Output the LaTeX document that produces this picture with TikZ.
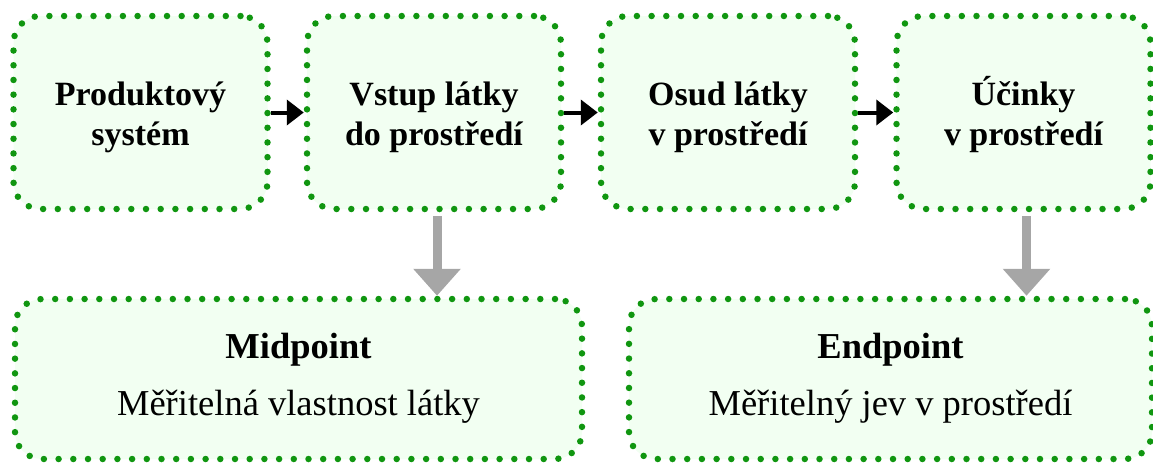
\documentclass[tikz,border=0pt]{standalone}
\usepackage{fontspec}
\setmainfont{Liberation Serif}
\usetikzlibrary{arrows.meta}
\definecolor{dotgreen}{RGB}{16,150,16}
\definecolor{boxfill}{RGB}{242,255,242}
\definecolor{arrgray}{RGB}{166,166,166}
\newcommand\tsA{\rule{0pt}{35pt}}
\newcommand\tsB{\rule[-10pt]{0pt}{10pt}}
\newcommand\bsA{\rule{0pt}{27pt}}
\newcommand\bsB{\rule[-12pt]{0pt}{12pt}}
\tikzset{
  dotbox/.style={draw=dotgreen, fill=boxfill, line width=6.5pt, line cap=round,
    dash pattern=on 0pt off 14.7pt, rounded corners=27pt, inner sep=0pt,
    align=center},
  topbox/.style={dotbox, minimum width=254pt, minimum height=193pt,
    font=\fontsize{34}{40}\selectfont\bfseries},
  botbox/.style={dotbox, minimum height=160pt,
    font=\fontsize{36.5}{57}\selectfont},
  blackarrow/.style={draw=black, line width=4pt,
    -{Triangle[length=17pt,width=25pt]}},
  grayarrow/.style={draw=arrgray, line width=9pt,
    -{Triangle[length=27pt,width=46pt]}},
}
\begin{document}
\begin{tikzpicture}[x=1pt,y=-1pt]
\useasboundingbox (0,0) rectangle (1153,464);
\node[topbox] (b1) at (140.5,112.5) {\tsA Produktový\\systém\tsB};
\node[topbox] (b2) at (434,112.5) {\tsA Vstup látky\\do prostředí\tsB};
\node[topbox] (b3) at (728,112.5) {\tsA Osud látky\\v prostředí\tsB};
\node[topbox] (b4) at (1023.5,112.5) {\tsA Účinky\\v prostředí\tsB};
\node[botbox, minimum width=567pt] (mid) at (298.5,379) {\bsA\textbf{Midpoint}\\Měřitelná vlastnost látky\bsB};
\node[botbox, minimum width=523pt] (end) at (890.5,379) {\bsA\textbf{Endpoint}\\Měřitelný jev v prostředí\bsB};
\draw[blackarrow] (b1.east) -- (b2.west);
\draw[blackarrow] (b2.east) -- (b3.west);
\draw[blackarrow] (b3.east) -- (b4.west);
\draw[grayarrow] ([xshift=3pt,yshift=-4pt]b2.south) -- ([xshift=3pt]b2.south |- mid.north);
\draw[grayarrow] ([xshift=3pt,yshift=-4pt]b4.south) -- ([xshift=3pt]b4.south |- end.north);
\end{tikzpicture}
\end{document}
